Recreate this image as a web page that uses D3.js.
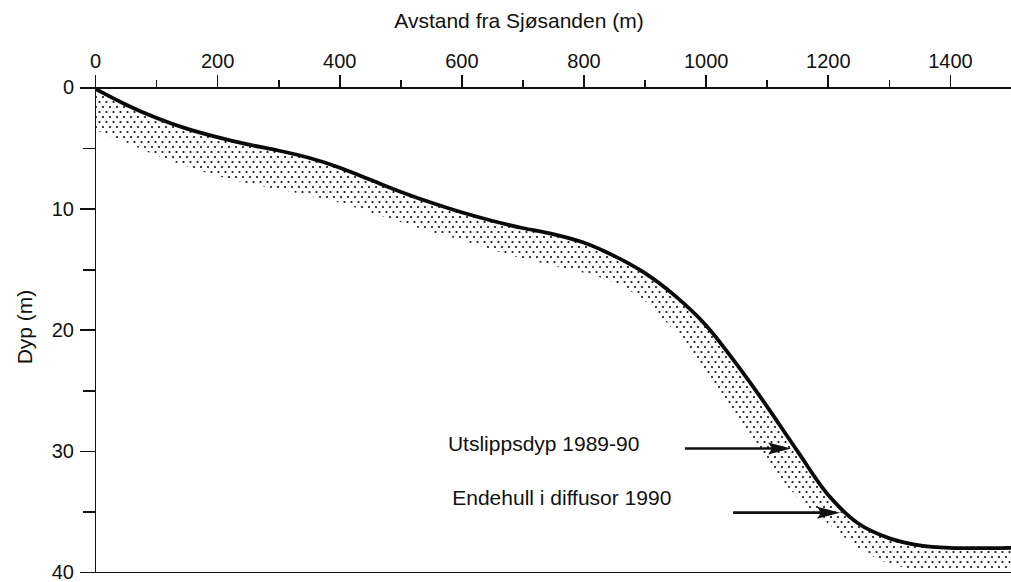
<!DOCTYPE html>
<html>
<head>
<meta charset="utf-8">
<script src="https://cdn.jsdelivr.net/npm/d3@7"></script>
<style>
  body{margin:0;background:#fff;}
  svg{display:block;font-family:"Liberation Sans",Arial,Helvetica,sans-serif;}
  .axis path,.axis line{stroke:#111;stroke-width:1.7;shape-rendering:crispEdges;}
  .axis text{fill:#111;font-size:20px;}
  .lbl{fill:#111;font-size:21px;}
</style>
</head>
<body>
<svg id="chart" width="1011" height="582"></svg>
<script>
// avstand (m) og dyp (m) langs bunnprofilen
const profil_avstand=[0,50,100,150,200,250,300,350,400,450,500,550,600,650,700,750,800,850,900,950,1000,1050,1100,1150,1200,1250,1300,1350,1400,1500];
const profil_dyp=[0.1,1.4,2.5,3.4,4.1,4.7,5.2,5.8,6.6,7.6,8.6,9.5,10.3,11.0,11.6,12.1,12.8,13.9,15.3,17.2,19.6,22.8,26.3,30.0,33.6,36.0,37.2,37.8,38.0,38.0];

// nedre kant av det prikkete feltet
const felt_avstand=[0,50,100,150,200,250,300,350,400,450,500,550,600,650,700,750,800,850,900,950,1000,1050,1100,1150,1200,1250,1300,1350,1400,1500];
const felt_dyp=[3.5,4.5,5.6,6.5,7.3,7.9,8.4,8.9,9.5,10.3,11.1,11.9,12.6,13.4,14.1,14.7,15.3,16.1,17.6,20.2,23.5,27.0,30.9,33.8,36.0,38.0,39.3,39.8,39.9,39.9];

const x_major=[0,200,400,600,800,1000,1200,1400];
const x_minor=[100,300,500,700,900,1100,1300];
const y_major=[0,10,20,30,40];
const y_minor=[5,15,25,35];

// merknader med piler
const merk_tekst=['Utslippsdyp 1989-90','Endehull i diffusor 1990'];
const merk_tekst_x=[578,585];
const merk_tekst_dyp=[30.05,34.5];
const merk_pil_fra=[966,1045];
const merk_pil_til=[1140,1220];
const merk_pil_dyp=[29.8,35.1];

const svg=d3.select('#chart');

const x=d3.scaleLinear().domain([0,1500]).range([95,1011]);
const y=d3.scaleLinear().domain([0,40]).range([87.5,572]);

const profil=profil_avstand.map((d,i)=>[d,profil_dyp[i]]);
const felt=felt_avstand.map((d,i)=>[d,felt_dyp[i]]);

// prikkmønster
const defs=svg.append('defs');
const pat=defs.append('pattern')
    .attr('id','dots')
    .attr('patternUnits','userSpaceOnUse')
    .attr('width',7).attr('height',10);
pat.append('circle').attr('cx',1.5).attr('cy',2).attr('r',1.1).attr('fill','#111');
pat.append('circle').attr('cx',5).attr('cy',7).attr('r',1.1).attr('fill','#111');

defs.append('clipPath').attr('id','clip')
    .append('rect').attr('x',x(0)).attr('y',y(0)).attr('width',x(1500)-x(0)).attr('height',y(40)-y(0));

const line=d3.line().x(d=>x(d[0])).y(d=>y(d[1])).curve(d3.curveCatmullRom.alpha(0.5));

// felt mellom profil og nedre kant
let upper=line(profil);
let lower=line(felt.slice().reverse());
svg.append('path')
    .attr('clip-path','url(#clip)')
    .attr('d',upper+'L'+lower.slice(1)+'Z')
    .attr('fill','url(#dots)');

svg.append('path')
    .attr('clip-path','url(#clip)')
    .attr('d',line(profil))
    .attr('fill','none')
    .attr('stroke','#0a0a0a')
    .attr('stroke-width',3.8)
    .attr('stroke-linejoin','round');

// akser
svg.append('g').attr('class','axis')
    .attr('transform',`translate(0,${y(0)})`)
    .call(d3.axisTop(x).tickValues(x_minor).tickSize(8).tickSizeOuter(0).tickFormat(''));
svg.append('g').attr('class','axis')
    .attr('transform',`translate(0,${y(0)})`)
    .call(d3.axisTop(x).tickValues(x_major).tickSize(13).tickSizeOuter(0).tickPadding(7).tickFormat(d3.format('d')));

svg.append('g').attr('class','axis')
    .attr('transform',`translate(${x(0)},0)`)
    .call(d3.axisLeft(y).tickValues(y_minor).tickSize(12).tickSizeOuter(0).tickFormat(''));
svg.append('g').attr('class','axis')
    .attr('transform',`translate(${x(0)},0)`)
    .call(d3.axisLeft(y).tickValues(y_major).tickSize(15).tickSizeOuter(0).tickPadding(6).tickFormat(d3.format('d')));

svg.append('g').attr('class','axis')
    .attr('transform',`translate(0,${y(40)})`)
    .call(d3.axisBottom(x).tickValues([]).tickSizeOuter(0));

// aksetitler
svg.append('text').attr('class','lbl')
    .attr('x',519).attr('y',28)
    .attr('text-anchor','middle')
    .text('Avstand fra Sjøsanden (m)');

svg.append('text').attr('class','lbl')
    .attr('transform','translate(32,327) rotate(-90)')
    .attr('text-anchor','middle')
    .text('Dyp (m)');

// merknader
merk_tekst.forEach((t,i)=>{
    svg.append('text').attr('class','lbl')
        .attr('x',x(merk_tekst_x[i]))
        .attr('y',y(merk_tekst_dyp[i]))
        .text(t);
    let x0=x(merk_pil_fra[i]), x1=x(merk_pil_til[i]), yy=y(merk_pil_dyp[i]);
    svg.append('line')
        .attr('x1',x0).attr('x2',x1-16)
        .attr('y1',yy).attr('y2',yy)
        .attr('stroke','#111').attr('stroke-width',2.6);
    svg.append('path')
        .attr('d',`M${x1},${yy} L${x1-23},${yy-6} L${x1-19},${yy} L${x1-23},${yy+6} Z`)
        .attr('fill','#111');
});
</script>
</body>
</html>
